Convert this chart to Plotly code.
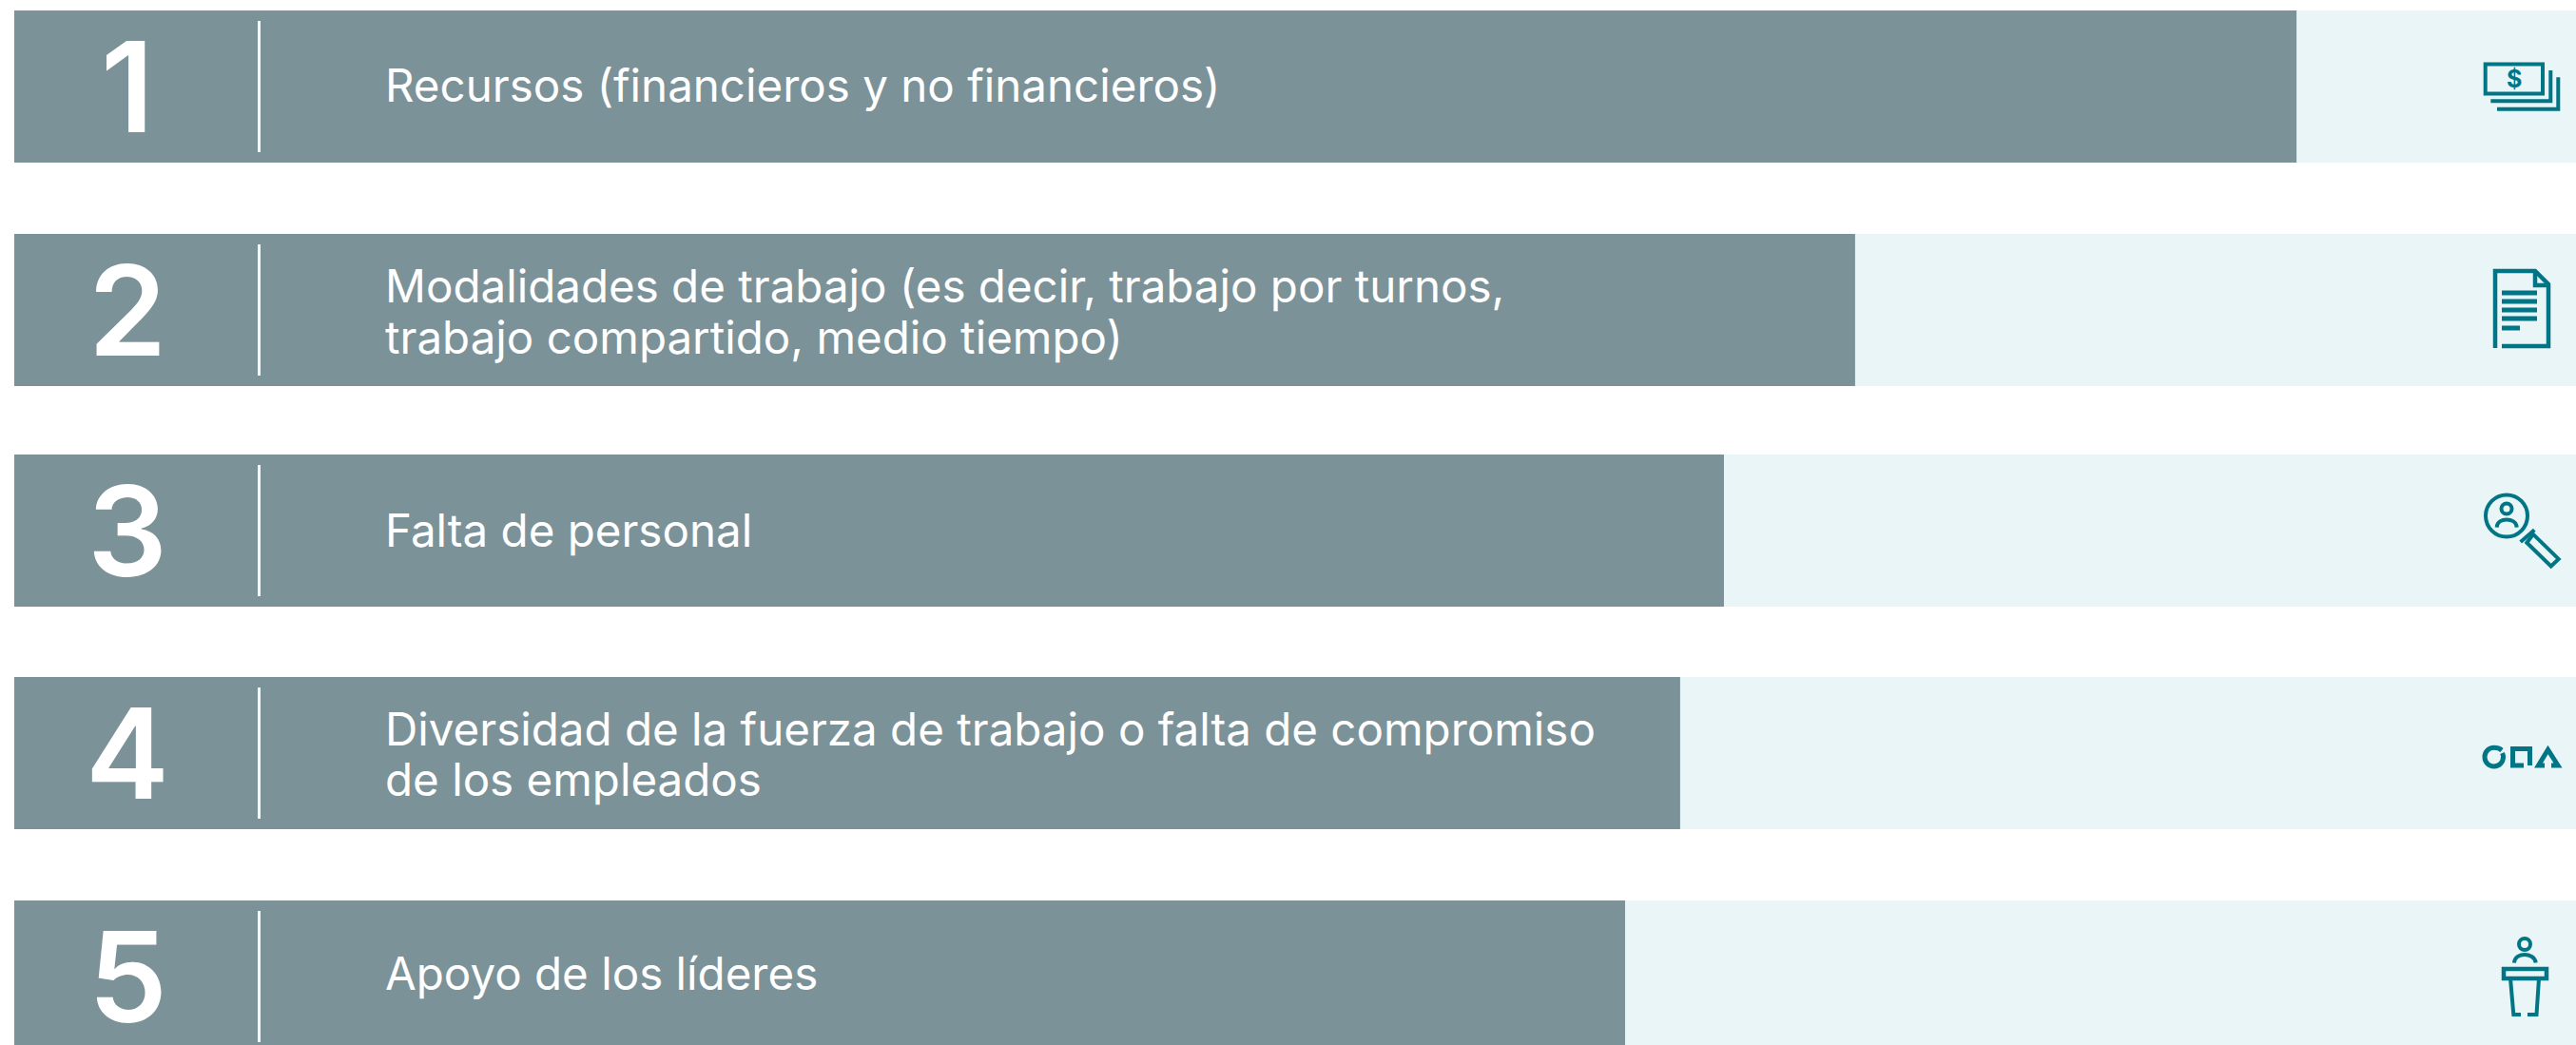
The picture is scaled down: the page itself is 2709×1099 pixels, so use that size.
import plotly.graph_objects as go

ranks = ["1", "2", "3", "4", "5"]
shares = [89.09, 71.86, 66.74, 65.03, 62.88]
labels = [
    ["Recursos (financieros y no financieros)"],
    ["Modalidades de trabajo (es decir, trabajo por turnos,", "trabajo compartido, medio tiempo)"],
    ["Falta de personal"],
    ["Diversidad de la fuerza de trabajo o falta de compromiso", "de los empleados"],
    ["Apoyo de los líderes"],
]

W, H = 2709, 1099
ROW_CENTERS = [91, 326, 558, 792, 1027]
BASELINE_SINGLE = [107, 0, 575, 0, 1041]
BASELINES_DOUBLE = {1: (318, 372), 3: (784, 837)}
BAR = "#7C9299"
TRACK = "#E9F5F7"
TEAL = "#007585"
FONT = "Inter"
TEXT_SIZE = 47.5

fig = go.Figure()
fig.add_trace(go.Bar(y=ROW_CENTERS, x=[100] * 5, orientation="h", width=160,
                     marker=dict(color=TRACK, line_width=0), hoverinfo="skip"))
fig.add_trace(go.Bar(y=ROW_CENTERS, x=shares, orientation="h", width=160,
                     marker=dict(color=BAR, line_width=0)))

annotations = []
def px_text(x, y, text, size, color="white", weight=400, xanchor="left"):
    annotations.append(dict(xref="x2", yref="y2", x=x, y=y, text=text,
                            showarrow=False, xanchor=xanchor, yanchor="middle", align="left",
                            borderpad=0, font=dict(family=FONT, size=size, color=color, weight=weight)))

for i, rank in enumerate(ranks):
    px_text(134, ROW_CENTERS[i], rank, 132, weight=600, xanchor="center")
    if len(labels[i]) == 1:
        px_text(404, BASELINE_SINGLE[i] - 18, labels[i][0], TEXT_SIZE)
    else:
        for line, base in zip(labels[i], BASELINES_DOUBLE[i]):
            px_text(404, base - 18, line, TEXT_SIZE)
px_text(2644, 83, "$", 25, color=TEAL, weight=700, xanchor="center")

shapes = []
def line_path(d, width=3.5):
    shapes.append(dict(type="path", xref="x2", yref="y2", path=d,
                       line=dict(color=TEAL, width=width), layer="above"))

def circle(cx, cy, r):
    k = 0.5523 * r
    return (f"M{cx-r},{cy} C{cx-r},{cy-k} {cx-k},{cy-r} {cx},{cy-r} "
            f"C{cx+k},{cy-r} {cx+r},{cy-k} {cx+r},{cy} "
            f"C{cx+r},{cy+k} {cx+k},{cy+r} {cx},{cy+r} "
            f"C{cx-k},{cy+r} {cx-r},{cy+k} {cx-r},{cy} Z")

# row dividers
for c in ROW_CENTERS:
    shapes.append(dict(type="line", xref="x2", yref="y2", x0=272.5, x1=272.5, y0=c - 69, y1=c + 69,
                       line=dict(color="rgba(255,255,255,0.92)", width=3), layer="above"))

# money
line_path("M2613.7,67.5 H2674 V98.5 H2613.7 Z", width=4)
line_path("M2619.3,106.3 H2682.3 V74", width=4)
line_path("M2626,114.7 H2690.3 V81.3", width=4)
# document
line_path("M2624,366 V285 H2666 L2680,299 V364 H2631", width=4.5)
line_path("M2666,285 V300 H2680", width=4.5)
for y, xe in [(308, 2668), (317, 2668), (326, 2668), (335, 2668), (345, 2650)]:
    line_path(f"M2631,{y} H{xe}", width=5)
# magnifier
line_path(circle(2636, 542.5, 22), width=4)
line_path(circle(2636, 535, 5.5), width=4)
line_path("M2625.7,554.6 C2626,549 2631,546.6 2636,546.6 C2641,546.6 2646.4,549 2646.7,554.6", width=4)
line_path("M2657.3,570.7 L2664,561.9 L2690.7,587.9 L2682.7,595.5 Z", width=4)
line_path("M2650.7,569.9 L2665.3,557.3", width=4)
# shapes
line_path("M2631,789 C2628,786.5 2625,786.3 2622.7,786.3 C2617,786.3 2613,791 2613,796 C2613,802 2617.5,806 2622.7,806 C2628.5,806 2632.5,801.5 2632.5,796 C2632.5,794 2632,793 2631.5,792", width=5)
line_path("M2654,805 H2642.5 V787.5 H2660.5 V805", width=5)
line_path("M2676,805 H2669.5 L2679.5,788.5 L2690,805 H2683", width=5)
# podium
line_path(circle(2655, 993, 6), width=4)
line_path("M2644,1012.6 C2644.5,1006.5 2650,1004 2655,1004 C2660,1004 2666,1006.5 2666.7,1012.6", width=4)
line_path("M2633,1019 H2678 V1029 H2633 Z", width=4.5)
line_path("M2640,1029 L2643.3,1067 H2651", width=4)
line_path("M2658,1067 H2667.5 L2670,1029", width=4)

fig.update_layout(
    width=W, height=H, margin=dict(l=0, r=0, t=0, b=0), autosize=False,
    paper_bgcolor="white", plot_bgcolor="rgba(0,0,0,0)", showlegend=False,
    barmode="overlay", annotations=annotations, shapes=shapes,
    xaxis=dict(domain=[15 / W, 1], range=[0, 100], visible=False, fixedrange=True),
    yaxis=dict(domain=[0, 1], range=[H, 0], visible=False, fixedrange=True),
    xaxis2=dict(domain=[0, 1], range=[0, W], visible=False, anchor="y2", fixedrange=True),
    yaxis2=dict(domain=[0, 1], range=[H, 0], visible=False, anchor="x2", fixedrange=True),
)
fig.add_trace(go.Scatter(x=[0], y=[0], xaxis="x2", yaxis="y2", mode="markers",
                         marker=dict(opacity=0), hoverinfo="skip"))

fig.write_html("out.html", config={"displayModeBar": False},
               post_script="document.body.style.margin='0';document.body.style.overflow='hidden';")
